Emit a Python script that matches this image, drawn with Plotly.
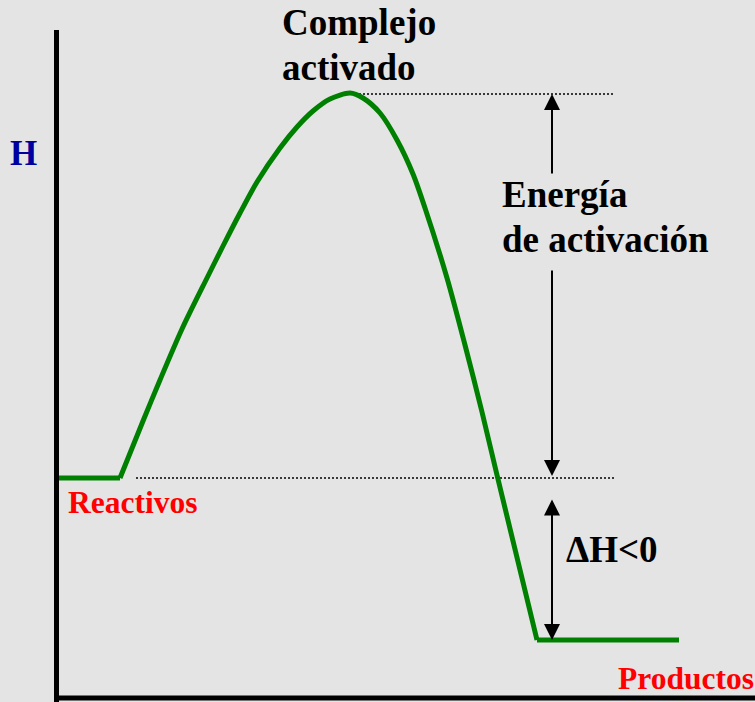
import plotly.graph_objects as go

# ---- data (reaction coordinate, enthalpy) in arbitrary units ----
reactant_x = [0, 63]
reactant_h = [219, 219]

curve_x = [63, 86, 103, 125, 150, 166, 183, 200, 223, 240, 256, 273, 293,
           306, 323, 340, 356, 368, 390, 408, 425, 440, 480]
curve_h = [219, 276, 317, 368, 419, 451, 484, 515, 549, 570, 586, 598, 604,
           599, 584, 557, 523, 489, 419, 352, 285, 222, 57]

product_x = [480, 622]
product_h = [57, 57]

h_reactants = 219
h_complex = 603
h_products = 57
level_x_start_react = 79
level_x_start_complex = 286
level_x_end = 558
arrow_x = 495

FONT = "Liberation Serif, Times New Roman, serif"
BG = "#e4e4e4"
GREEN = "#008000"

fig = go.Figure()

# dotted reference levels
fig.add_trace(go.Scatter(x=[level_x_start_react, level_x_end], y=[h_reactants, h_reactants],
                         mode="lines", line=dict(color="black", width=1.5, dash="2px,2px"),
                         hoverinfo="skip"))
fig.add_trace(go.Scatter(x=[level_x_start_complex, level_x_end], y=[h_complex, h_complex],
                         mode="lines", line=dict(color="black", width=1.5, dash="2px,2px"),
                         hoverinfo="skip"))

# energy profile
fig.add_trace(go.Scatter(x=reactant_x, y=reactant_h, mode="lines",
                         line=dict(color=GREEN, width=5), hoverinfo="skip"))
fig.add_trace(go.Scatter(x=curve_x, y=curve_h, mode="lines",
                         line=dict(color=GREEN, width=5, shape="spline", smoothing=0.8),
                         hoverinfo="skip"))
fig.add_trace(go.Scatter(x=product_x, y=product_h, mode="lines",
                         line=dict(color=GREEN, width=5), hoverinfo="skip"))

arrow_common = dict(text="", showarrow=True, arrowhead=2, arrowsize=1.6, arrowwidth=2,
                    arrowcolor="black", axref="x", ayref="y", xref="x", yref="y",
                    standoff=0, startstandoff=0)
# activation energy arrow (split around text)
fig.add_annotation(x=arrow_x, y=h_complex, ax=arrow_x, ay=522, **arrow_common)
fig.add_annotation(x=arrow_x, y=h_reactants + 2, ax=arrow_x, ay=428, **arrow_common)
# delta H arrow
fig.add_annotation(x=arrow_x, y=h_products, ax=arrow_x, ay=199, arrowside="end+start",
                   **arrow_common)

def label(text, x, y, size, color="black", xanchor="left", yanchor="middle"):
    fig.add_annotation(text=text, x=x, y=y, xref="x", yref="y", showarrow=False,
                       xanchor=xanchor, yanchor=yanchor, align="left",
                       font=dict(family=FONT, size=size, color=color, weight="bold"))

label("Complejo", 223, 675, 37)
label("activado", 223, 630, 37)
label("Energía", 443, 503, 37)
label("de activación", 443, 458, 37)
label("ΔH&lt;0", 507, 148, 37)
label("Reactivos", 9, 214, 31.5, color="#ff0000", yanchor="top")
label("Productos", 559, 38, 31.5, color="#ff0000", yanchor="top")
label("H", -34, 544, 35, color="#0000a0", xanchor="center")

# axes lines
fig.add_shape(type="line", x0=-0.5, x1=-0.5, y0=-5, y1=667, xref="x", yref="y",
              line=dict(color="black", width=5))
fig.add_shape(type="line", x0=-3, x1=698, y0=-1, y1=-1, xref="x", yref="y",
              line=dict(color="black", width=5))

fig.update_xaxes(range=[-57, 698], visible=False)
fig.update_yaxes(range=[-5, 697], visible=False)
fig.update_layout(width=755, height=702, margin=dict(l=0, r=0, t=0, b=0),
                  paper_bgcolor=BG, plot_bgcolor=BG, showlegend=False)

fig.write_html("out.html", config={"displayModeBar": False},
               post_script="document.body.style.margin='0';")
